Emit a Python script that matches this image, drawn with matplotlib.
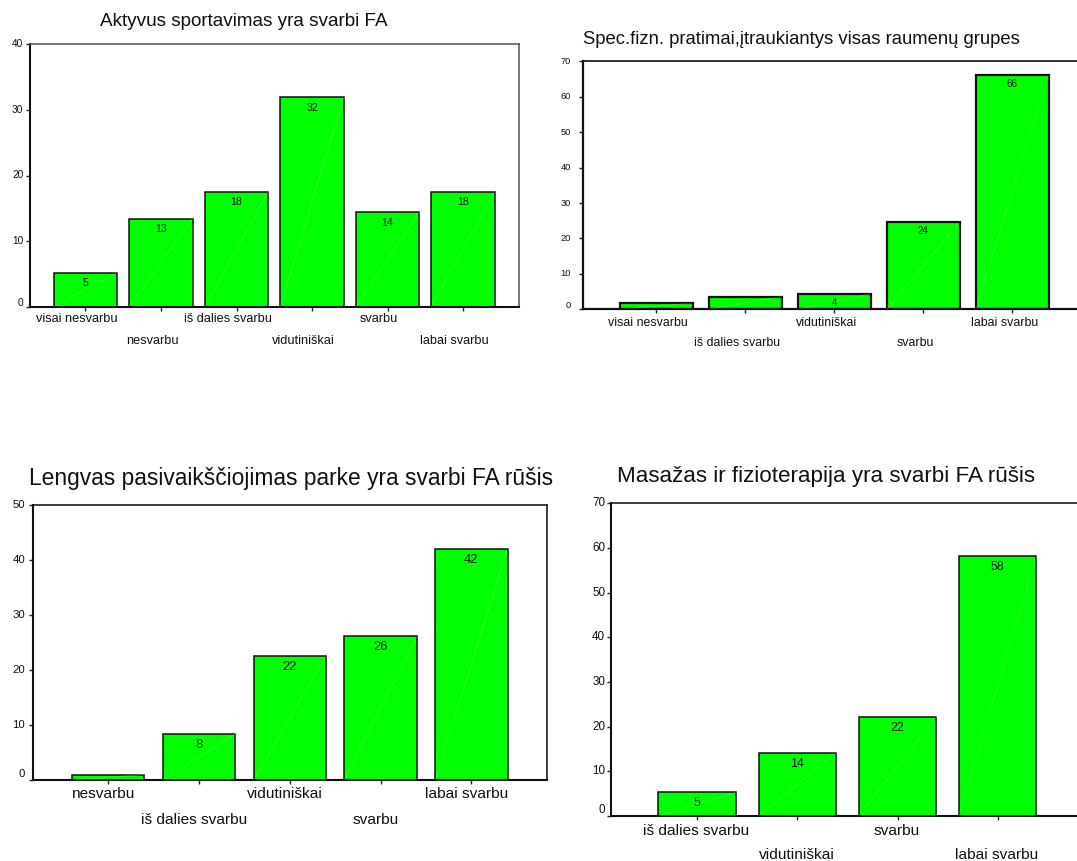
import matplotlib
matplotlib.use("Agg")
import matplotlib.pyplot as plt

plt.rcParams['font.family'] = ['Liberation Sans', 'DejaVu Sans']

W, H = 1077, 861

# ---------------- data ----------------
title1 = "Aktyvus sportavimas yra svarbi FA"
cats1 = ["visai nesvarbu", "nesvarbu", "iš dalies svarbu", "vidutiniškai", "svarbu", "labai svarbu"]
vals1 = [5.2, 13.4, 17.5, 31.9, 14.4, 17.5]
labs1 = ["5", "13", "18", "32", "14", "18"]
yt1 = [0, 10, 20, 30, 40]

title2 = "Spec.fizn. pratimai,įtraukiantys visas raumenų grupes"
cats2 = ["visai nesvarbu", "iš dalies svarbu", "vidutiniškai", "svarbu", "labai svarbu"]
vals2 = [1.8, 3.6, 4.4, 24.5, 66.2]
labs2 = ["", "", "4", "24", "66"]
yt2 = [0, 10, 20, 30, 40, 50, 60, 70]

title3 = "Lengvas pasivaikščiojimas parke yra svarbi FA rūšis"
cats3 = ["nesvarbu", "iš dalies svarbu", "vidutiniškai", "svarbu", "labai svarbu"]
vals3 = [1.0, 8.4, 22.5, 26.1, 42.0]
labs3 = ["", "8", "22", "26", "42"]
yt3 = [0, 10, 20, 30, 40, 50]

title4 = "Masažas ir fizioterapija yra svarbi FA rūšis"
cats4 = ["iš dalies svarbu", "vidutiniškai", "svarbu", "labai svarbu"]
vals4 = [5.3, 14.2, 22.2, 58.3]
labs4 = ["5", "14", "22", "58"]
yt4 = [0, 10, 20, 30, 40, 50, 60, 70]

fig = plt.figure(figsize=(W / 100, H / 100), dpi=100)
fig.patch.set_facecolor('white')


def panel(box, xlim, ylim, cats, vals, labs, yticks, title, tpos, tsize,
          bw, xfs, yfs, vfs, row_dy, xshift, ygap, zero_raise, vdy,
          spine_lw, edge_lw, top_color):
    left, top, right, bottom = box
    ax = fig.add_axes([left / W, 1 - bottom / H, (right - left) / W, (bottom - top) / H])
    ax.set_xlim(*xlim)
    ax.set_ylim(*ylim)
    x = list(range(len(cats)))
    ax.bar(x, vals, width=bw, color='#00ff00', edgecolor='#111111',
           linewidth=edge_lw, zorder=2)
    for i, v in enumerate(vals):
        ax.plot([i - bw / 2, i + bw / 2], [0, v], color='white', lw=0.5,
                alpha=0.35, linestyle=(0, (2, 1)), zorder=3)
        if labs[i]:
            ax.annotate(labs[i], xy=(i, v), xytext=(0, -vdy),
                        textcoords='offset pixels', ha='center', va='center',
                        fontsize=vfs, color='#111111', zorder=4)
    ax.set_xticks(x)
    ax.set_yticks(yticks)
    ax.set_xticklabels([])
    ax.set_yticklabels([])
    ax.tick_params(axis='both', direction='out', length=3, width=1, color='#222222')
    for i, c in enumerate(cats):
        dy = row_dy[0] if i % 2 == 0 else row_dy[1]
        ax.annotate(c, xy=(i, 0), xycoords=('data', 'axes fraction'),
                    xytext=(xshift, -dy), textcoords='offset pixels',
                    ha='center', va='center', fontsize=xfs, color='#111111',
                    annotation_clip=False)
    for t in yticks:
        ax.annotate(str(t), xy=(0, t), xycoords=('axes fraction', 'data'),
                    xytext=(-ygap, zero_raise if t == 0 else 0),
                    textcoords='offset pixels', ha='right', va='center',
                    fontsize=yfs, color='#111111', annotation_clip=False)
    for s in ['left', 'bottom']:
        ax.spines[s].set_linewidth(spine_lw)
        ax.spines[s].set_color('#111111')
    for s in ['top', 'right']:
        ax.spines[s].set_linewidth(spine_lw * 0.75)
        ax.spines[s].set_color(top_color)
    fig.text(tpos[0] / W, 1 - tpos[1] / H, title, ha='left', va='center',
             fontsize=tsize, color='#111111')
    return ax


panel((30.3, 44.3, 519, 306.7), (-0.73, 5.74), (0, 40), cats1, vals1, labs1, yt1,
      title1, (100, 21.7), 13.6, 0.838, 9.2, 7.3, 7.6, (12.6, 34), -9, 7, 4, 10.5,
      1.5, 1.1, '#555555')

panel((582.5, 61.3, 1086, 309.3), (-0.83, 4.83), (0, 70), cats2, vals2, labs2, yt2,
      title2, (582.8, 40), 13.3, 0.817, 8.9, 6.7, 7.0, (13.4, 33.4), -8, 11.7, 4.3, 9,
      1.6, 1.6, '#111111')

panel((33, 505, 546.7, 780), (-0.83, 4.83), (0, 50), cats3, vals3, labs3, yt3,
      title3, (29.3, 478.3), 16.4, 0.797, 11.1, 8.2, 9.4, (14.3, 40), -5, 8, 6, 11,
      1.5, 1.1, '#111111')

panel((611.2, 503.3, 1083.7, 816), (-0.86, 3.86), (0, 70), cats4, vals4, labs4, yt4,
      title4, (617, 476.7), 16.1, 0.776, 11.1, 8.4, 8.9, (14.7, 39), -1, 6, 6, 11,
      1.5, 1.1, '#111111')

fig.savefig('out.png', dpi=100, facecolor='white')
